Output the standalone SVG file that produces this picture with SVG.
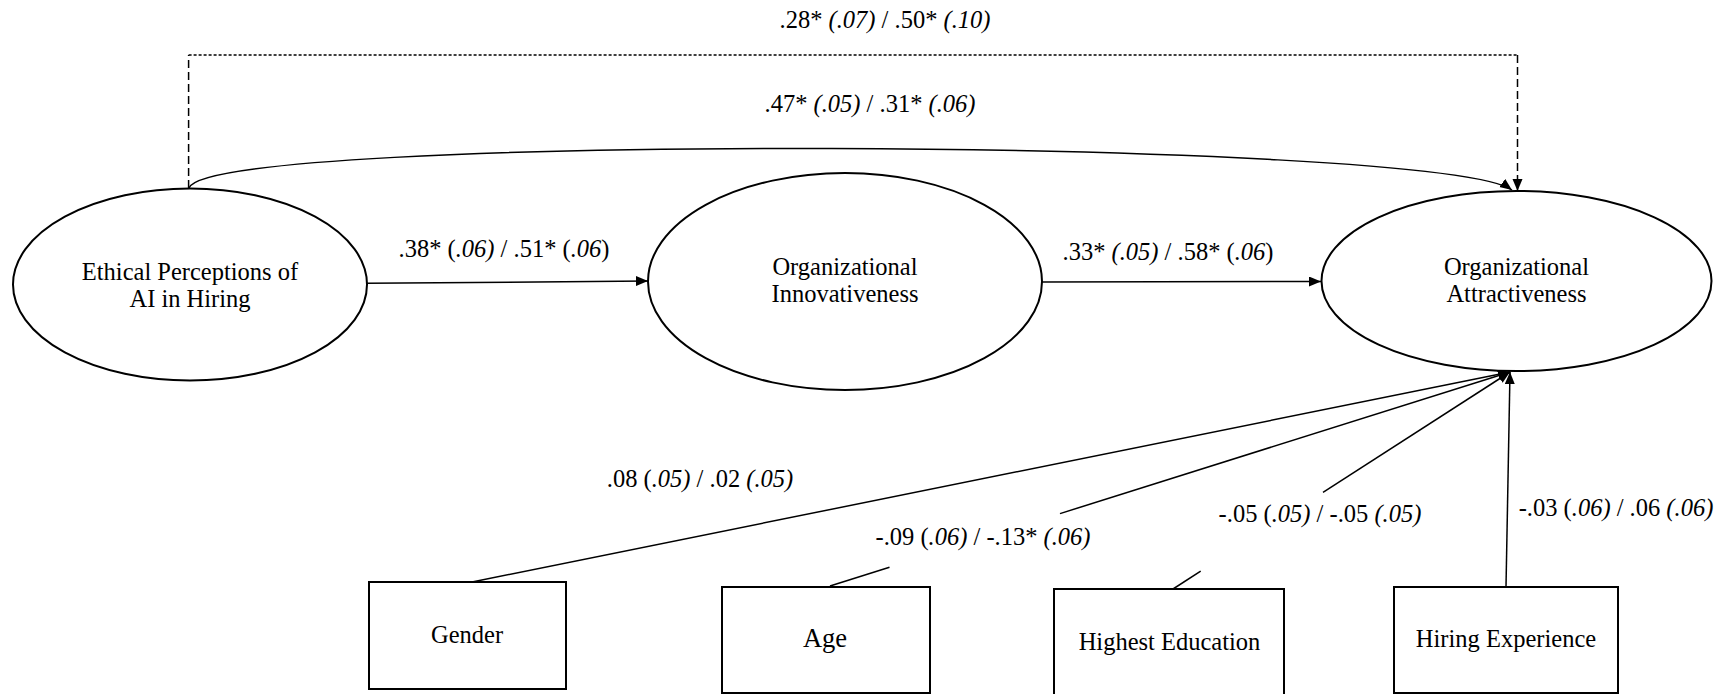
<svg xmlns="http://www.w3.org/2000/svg" width="1719" height="694" viewBox="0 0 1719 694">
<style>
text{font-family:"Liberation Serif","Times New Roman",serif;font-size:24.5px;fill:#000;text-anchor:middle}
.i{font-style:italic}
.node{fill:#fff;stroke:#000;stroke-width:2}
.c{fill:none;stroke:#000;stroke-width:1.5}
</style>
<defs>
<marker id="ah" markerUnits="userSpaceOnUse" markerWidth="14" markerHeight="12" refX="12" refY="5" orient="auto">
<path d="M0,0 L12,5 L0,10 Z" fill="#000"/>
</marker>
</defs>
<g id="connectors">
<path class="c" d="M188.6,188 V55" stroke-dasharray="8 4"/>
<path class="c" d="M188.6,55 H1517.5" stroke-dasharray="3 2"/>
<path class="c" d="M1517.5,55 V191" stroke-dasharray="8 4" marker-end="url(#ah)"/>
<path class="c" d="M189,188 C210,132 1440,138 1512,190" marker-end="url(#ah)"/>
<line class="c" x1="367" y1="283.3" x2="648" y2="281" marker-end="url(#ah)"/>
<line class="c" x1="1042" y1="282" x2="1321" y2="281.5" marker-end="url(#ah)"/>
<line class="c" x1="472" y1="582" x2="1510" y2="372" marker-end="url(#ah)"/>
<line class="c" x1="830" y1="586" x2="889.5" y2="567.3"/>
<line class="c" x1="1060" y1="513.6" x2="1510" y2="372" marker-end="url(#ah)"/>
<line class="c" x1="1173" y1="589" x2="1200.7" y2="571.2"/>
<line class="c" x1="1323" y1="492.4" x2="1510" y2="372" marker-end="url(#ah)"/>
<line class="c" x1="1506" y1="587" x2="1510" y2="372" marker-end="url(#ah)"/>
<text x="885" y="28">.28* <tspan class="i">(.07)</tspan> /  .50* <tspan class="i">(.10)</tspan></text>
<text x="870" y="112">.47* <tspan class="i">(.05)</tspan> / .31* <tspan class="i">(.06)</tspan></text>
<text x="504" y="257">.38* (<tspan class="i">.06)</tspan> / .51* (<tspan class="i">.06</tspan>)</text>
<text x="1168" y="260">.33* <tspan class="i">(.05)</tspan> / .58* (<tspan class="i">.06</tspan>)</text>
<text x="700" y="487">.08 (<tspan class="i">.05)</tspan> / .02 <tspan class="i">(.05)</tspan></text>
<text x="983" y="545">-.09 (<tspan class="i">.06)</tspan> / -.13* <tspan class="i">(.06)</tspan></text>
<text x="1320" y="522">-.05 (<tspan class="i">.05)</tspan> / -.05 <tspan class="i">(.05)</tspan></text>
<text x="1616" y="516">-.03 (<tspan class="i">.06)</tspan> / .06 <tspan class="i">(.06)</tspan></text>
</g>
<g id="ethical">
<ellipse class="node" cx="190" cy="284.5" rx="177" ry="96"/>
<text x="190" y="280">Ethical Perceptions of</text>
<text x="190" y="307">AI in Hiring</text>
</g>
<g id="innovativeness">
<ellipse class="node" cx="845" cy="281.5" rx="197" ry="108.5"/>
<text x="845" y="275">Organizational</text>
<text x="845" y="302">Innovativeness</text>
</g>
<g id="attractiveness">
<ellipse class="node" cx="1516.5" cy="281" rx="195" ry="90"/>
<text x="1516.5" y="275">Organizational</text>
<text x="1516.5" y="302">Attractiveness</text>
</g>
<g id="gender">
<rect class="node" x="369" y="582" width="197" height="107"/>
<text x="467" y="643">Gender</text>
</g>
<g id="age">
<rect class="node" x="722" y="587" width="208" height="106"/>
<text x="825" y="647" style="font-size:26.5px">Age</text>
</g>
<g id="education">
<rect class="node" x="1054" y="589" width="230" height="112"/>
<text x="1169.5" y="650">Highest Education</text>
</g>
<g id="experience">
<rect class="node" x="1394" y="587" width="224" height="106"/>
<text x="1506" y="647">Hiring Experience</text>
</g>
</svg>
